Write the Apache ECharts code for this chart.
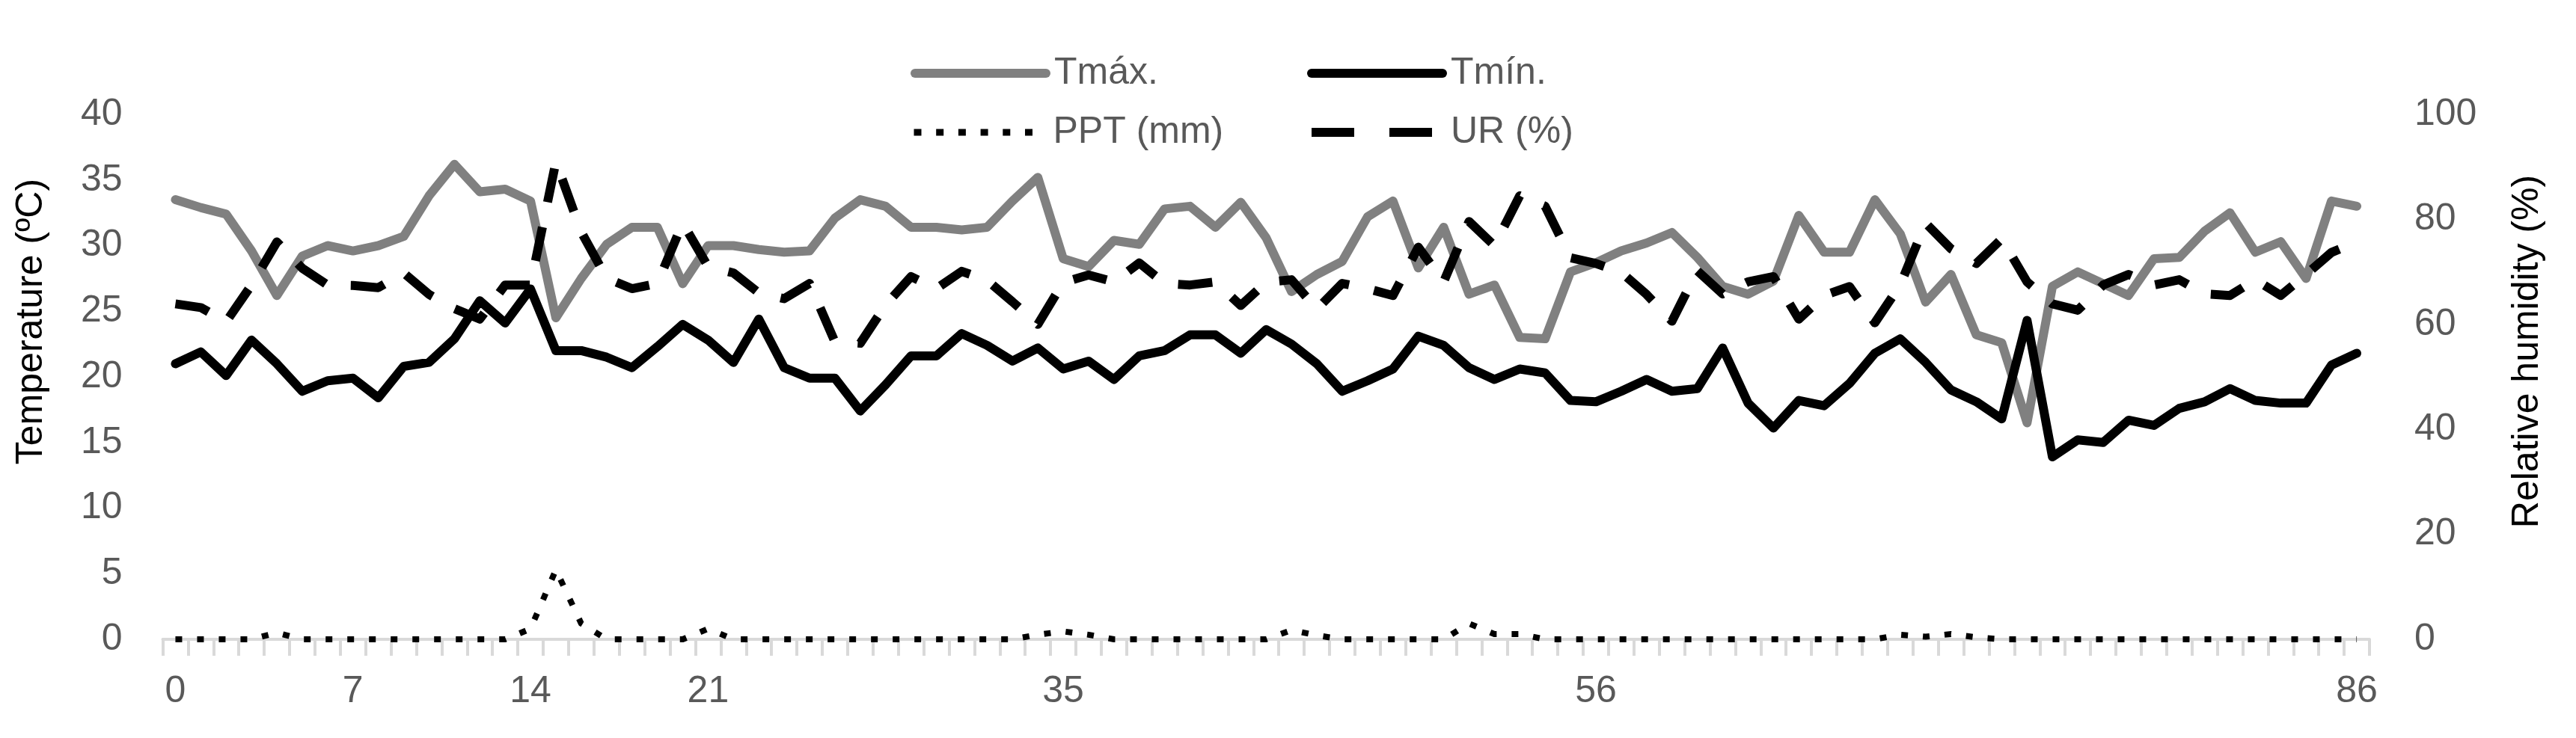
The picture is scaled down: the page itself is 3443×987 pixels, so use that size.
<!DOCTYPE html>
<html><head><meta charset="utf-8">
<script src="https://cdn.jsdelivr.net/npm/echarts@6/dist/echarts.min.js"></script>
<style>html,body{margin:0;padding:0;background:#fff}#c{width:3443px;height:987px}</style>
</head><body><div id="c"></div>
<script>
const days = [0,1,2,3,4,5,6,7,8,9,10,11,12,13,14,15,16,17,18,19,20,21,22,23,24,25,26,27,28,29,30,31,32,33,34,35,36,37,38,39,40,41,42,43,44,45,46,47,48,49,50,51,52,53,54,55,56,57,58,59,60,61,62,63,64,65,66,67,68,69,70,71,72,73,74,75,76,77,78,79,80,81,82,83,84,85,86];
const tickLabels = [0,7,14,21,35,56,86];
const tmax = [33.5,32.9,32.4,29.6,26.2,29.2,30.0,29.6,30.0,30.7,33.8,36.2,34.1,34.3,33.4,24.5,27.5,30.1,31.4,31.4,27.1,30.0,30.0,29.7,29.5,29.6,32.1,33.5,33.0,31.4,31.4,31.2,31.4,33.4,35.2,29.0,28.4,30.4,30.1,32.8,33.0,31.4,33.3,30.6,26.5,27.8,28.8,32.2,33.4,28.3,31.4,26.3,27.0,23.0,22.9,28.0,28.7,29.6,30.2,31.0,29.1,26.9,26.3,27.3,32.3,29.5,29.5,33.5,30.9,25.7,27.8,23.2,22.6,16.5,26.9,28.0,27.1,26.2,29.0,29.1,31.1,32.5,29.5,30.3,27.5,33.4,33.0];
const tmin = [21.0,21.9,20.1,22.8,21.0,18.9,19.7,19.9,18.4,20.8,21.1,22.9,25.8,24.1,26.7,22.0,22.0,21.5,20.7,22.3,24.0,22.8,21.1,24.4,20.7,19.9,19.9,17.4,19.4,21.6,21.6,23.3,22.4,21.2,22.2,20.6,21.2,19.8,21.6,22.0,23.2,23.2,21.8,23.6,22.5,21.0,18.9,19.7,20.6,23.1,22.4,20.7,19.8,20.6,20.3,18.2,18.1,18.9,19.8,18.9,19.1,22.2,18.0,16.1,18.2,17.8,19.5,21.8,22.9,21.1,19.0,18.1,16.8,24.3,13.9,15.2,15.0,16.7,16.3,17.6,18.1,19.1,18.2,18.0,18.0,20.9,21.8];
const ppt = [0,0,0,0,0.5,0,0,0,0,0,0,0,0,0,0.8,5.3,1.2,0,0,0,0,0.8,0,0,0,0,0,0,0,0,0,0,0,0,0.35,0.6,0.35,0,0,0,0,0,0,0,0.7,0.3,0,0,0,0,0,1.2,0.4,0.4,0,0,0,0,0,0,0,0,0,0,0,0,0,0,0.35,0.2,0.4,0.15,0,0,0,0,0,0,0,0,0,0,0,0,0,0,0];
const ur = [63.9,63.2,60.5,67.5,75.7,70.7,67.5,67.4,67.0,69.8,65.7,63.0,61.0,67.5,67.5,91.0,77.6,68.8,66.8,67.8,79.3,71.0,69.8,66.0,64.9,67.8,56.7,56.4,63.7,69.1,66.8,70.1,68.4,64.3,60.0,68.0,69.4,68.1,71.7,67.8,67.5,68.1,63.6,68.0,68.5,62.9,67.8,66.8,65.5,74.7,68.1,79.6,75.0,84.5,82.5,72.7,71.6,69.9,65.7,60.6,70.2,65.8,68.1,69.1,61.0,65.5,67.2,60.3,67.5,79.3,74.4,71.6,76.3,68.1,63.9,62.7,67.5,69.5,67.5,68.5,65.8,65.5,68.5,65.5,69.5,73.7,75.7];
const tempTicks = {min:0, max:40, interval:5};
const rhTicks = {min:0, max:100, interval:20};

const FONT = 'Liberation Sans, Arial, sans-serif';
const labelColor = '#595959';
const chart = echarts.init(document.getElementById('c'), null, {renderer:'canvas'});
const legendText = {fontSize:50, color:labelColor, fontFamily:FONT, padding:[0,0,0,6]};
function mkLegend(name, left, top, ls) {
  return {left:left, top:top, padding:0, itemWidth:175, itemHeight:14, selectedMode:false,
          textStyle:legendText,
          data:[{name:name, itemStyle:{opacity:0}, lineStyle:ls}]};
}
chart.setOption({
  animation:false,
  backgroundColor:'#fff',
  grid:{left:217.5, right:276, top:153, bottom:132, containLabel:false},
  legend:[
    mkLegend('Tmáx.', 1217, 73, {width:12,color:'#808080',type:'solid',cap:'round'}),
    mkLegend('Tmín.', 1747, 73, {width:12,color:'#000',type:'solid',cap:'round'}),
    mkLegend('PPT (mm)', 1217, 152, {width:9,color:'#000',type:[10,19.7],cap:'butt'}),
    mkLegend('UR (%)', 1747, 152, {width:12,color:'#000',type:[57,47],cap:'butt'})
  ],
  xAxis:{
    type:'category', data:days.map(String), boundaryGap:true,
    axisLine:{show:true, lineStyle:{color:'#d9d9d9', width:4}},
    axisTick:{show:true, interval:0, length:22, lineStyle:{color:'#d9d9d9', width:4}},
    axisLabel:{interval:(i,v)=>tickLabels.includes(Number(v)), fontSize:50, color:labelColor, fontFamily:FONT, margin:45},
    splitLine:{show:false}
  },
  yAxis:[
    {type:'value', min:tempTicks.min, max:tempTicks.max, interval:tempTicks.interval, position:'left',
     name:'Temperature (ºC)', nameLocation:'middle', nameGap:150,
     nameTextStyle:{fontSize:50, color:'#000', fontFamily:FONT, padding:[0,0,0,148]},
     axisLine:{show:false}, axisTick:{show:false}, splitLine:{show:false},
     axisLabel:{fontSize:50, color:labelColor, fontFamily:FONT, margin:54}},
    {type:'value', min:rhTicks.min, max:rhTicks.max, interval:rhTicks.interval, position:'right',
     name:'Relative humidity (%)', nameLocation:'middle', nameGap:186,
     nameTextStyle:{fontSize:50, color:'#000', fontFamily:FONT, padding:[0,0,0,68]},
     axisLine:{show:false}, axisTick:{show:false}, splitLine:{show:false},
     axisLabel:{fontSize:50, color:labelColor, fontFamily:FONT, margin:60}}
  ],
  series:[
    {name:'Tmáx.', type:'line', data:tmax, yAxisIndex:0, symbol:'none', smooth:false,
     lineStyle:{color:'#808080', width:12, cap:'round', join:'round'}, itemStyle:{color:'#808080'}},
    {name:'Tmín.', type:'line', data:tmin, yAxisIndex:0, symbol:'none', smooth:false,
     lineStyle:{color:'#000', width:12, cap:'round', join:'round'}, itemStyle:{color:'#000'}},
    {name:'PPT (mm)', type:'line', data:ppt, yAxisIndex:0, symbol:'none', smooth:false,
     lineStyle:{color:'#000', width:8, type:[9,20], cap:'butt', join:'round'}, itemStyle:{color:'#000'}},
    {name:'UR (%)', type:'line', data:ur, yAxisIndex:1, symbol:'none', smooth:false,
     lineStyle:{color:'#000', width:12, type:[46,34], cap:'butt', join:'round'}, itemStyle:{color:'#000'}}
  ]
});
</script></body></html>
